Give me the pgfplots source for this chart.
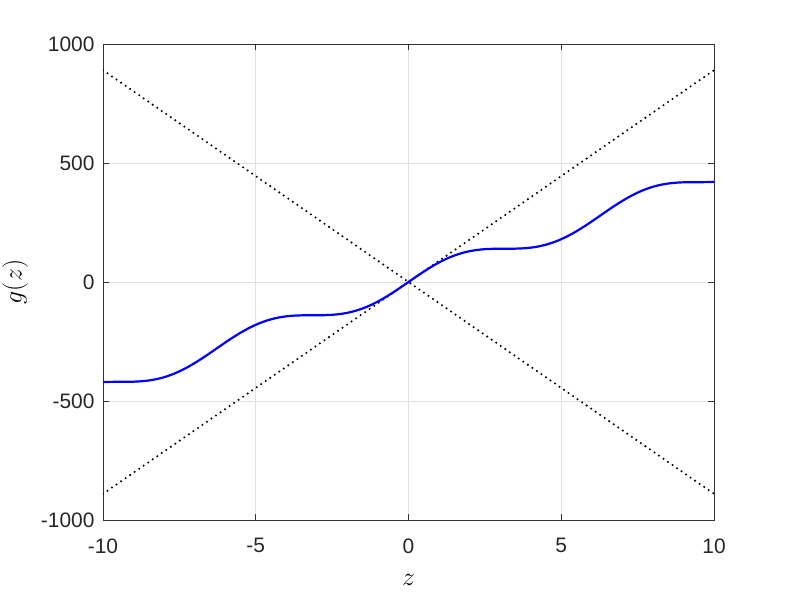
\RequirePackage{fix-cm}
\documentclass[border=0pt]{standalone}
\usepackage{fontspec}
\setmainfont{Liberation Sans}
\usepackage{pgfplots}
\pgfplotsset{compat=1.18}

\begin{document}
\begin{tikzpicture}
\path[use as bounding box] (0,0) rectangle (789bp,592bp);
\begin{axis}[
    at={(103bp,72bp)}, anchor=south west,
    width=611bp, height=476bp, scale only axis,
    xmin=-10, xmax=10, ymin=-1000, ymax=1000,
    xtick={-10,-5,0,5,10},
    ytick={-1000,-500,0,500,1000},
    xticklabels={-10,-5,0,5,10},
    yticklabels={-1000,-500,0,500,1000},
    tick align=inside,
    major tick length=6bp,
    grid=major,
    grid style={gray!25, line width=0.6bp},
    axis line style={black!80, line width=0.6bp},
    tick style={black!80, line width=0.6bp},
    ticklabel style={font=\fontsize{21}{23}\selectfont, text=black!85},
    xticklabel style={yshift=-15bp},
    yticklabel style={xshift=-5bp},
    xlabel={\fontsize{26}{29}\selectfont $z$},
    ylabel={\fontsize{26}{29}\selectfont $g(z)$},
    xlabel style={yshift=-14bp},
    ylabel style={yshift=6bp},
    clip=true,
]
\addplot[black, line width=2.3bp, line cap=round, dash pattern=on 0pt off 5.5bp] coordinates {(-10,890) (10,-890)};
\addplot[black, line width=2.3bp, line cap=round, dash pattern=on 0pt off 5.5bp] coordinates {(-10,-890) (10,890)};
\addplot[blue, line width=2.2bp, smooth] coordinates {
(-10,-420.79) (-9.75,-419.66) (-9.5,-419.40) (-9.25,-419.38) (-9,-418.84)
(-8.75,-417.14) (-8.5,-413.78) (-8.25,-408.19) (-8,-400.03) (-7.75,-389.13)
(-7.5,-375.49) (-7.25,-359.25) (-7,-340.74) (-6.75,-320.40) (-6.5,-298.82)
(-6.25,-276.65) (-6,-254.57) (-5.75,-233.26) (-5.5,-213.36) (-5.25,-195.40)
(-5,-179.83) (-4.75,-166.91) (-4.5,-156.75) (-4.25,-149.30) (-4,-144.32)
(-3.75,-141.44) (-3.5,-140.14) (-3.25,-139.81) (-3,-139.78) (-2.75,-139.36)
(-2.5,-137.88) (-2.25,-134.75) (-2,-129.46) (-1.75,-121.66) (-1.5,-111.14)
(-1.25,-97.86) (-1,-81.95) (-0.75,-63.71) (-0.5,-43.58) (-0.25,-22.13)
(0,0)
(0.25,22.13) (0.5,43.58) (0.75,63.71) (1,81.95) (1.25,97.86)
(1.5,111.14) (1.75,121.66) (2,129.46) (2.25,134.75) (2.5,137.88)
(2.75,139.36) (3,139.78) (3.25,139.81) (3.5,140.14) (3.75,141.44)
(4,144.32) (4.25,149.30) (4.5,156.75) (4.75,166.91) (5,179.83)
(5.25,195.40) (5.5,213.36) (5.75,233.26) (6,254.57) (6.25,276.65)
(6.5,298.82) (6.75,320.40) (7,340.74) (7.25,359.25) (7.5,375.49)
(7.75,389.13) (8,400.03) (8.25,408.19) (8.5,413.78) (8.75,417.14)
(9,418.84) (9.25,419.38) (9.5,419.40) (9.75,419.66) (10,420.79)
};
\end{axis}
\end{tikzpicture}
\end{document}
